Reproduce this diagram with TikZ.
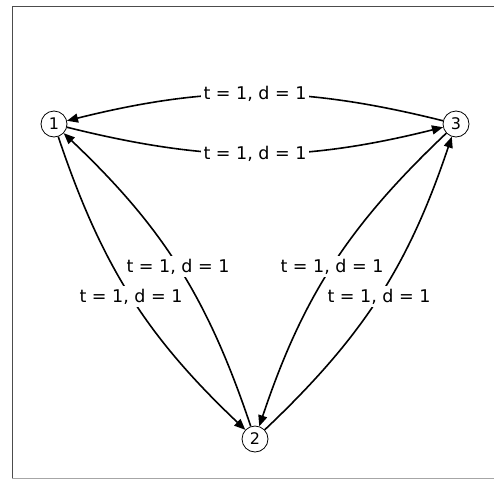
\documentclass[tikz,border=0pt]{standalone}
\usepackage{fontspec}
\setmainfont{DejaVu Sans}
\usetikzlibrary{arrows.meta}
\begin{document}
\begin{tikzpicture}[x=1pt,y=-1pt,
 vtx/.style={circle,draw,line width=0.8pt,minimum size=26pt,inner sep=0pt,font=\fontsize{16}{19}\selectfont},
 edge/.style={-{Triangle[length=11pt,width=9pt]},line width=1.6pt,bend right=14},
 lbl/.style={fill=white,inner sep=3pt,font=\fontsize{17.5}{21}\selectfont}]
\useasboundingbox (0,0) rectangle (494,479);
\draw[color=black!70,line width=1pt] (494,6) -- (12,6) -- (12,478);
\draw[color=black!35,line width=1pt] (12,478) -- (494,478);
\node[vtx] (n1) at (54,124) {1};
\node[vtx] (n3) at (456,124) {3};
\node[vtx] (n2) at (255,439) {2};
\draw[edge] (n3) to node[lbl]{t = 1, d = 1} (n1);
\draw[edge] (n1) to node[lbl]{t = 1, d = 1} (n3);
\draw[edge] (n1) to node[lbl]{t = 1, d = 1} (n2);
\draw[edge] (n2) to node[lbl]{t = 1, d = 1} (n1);
\draw[edge] (n3) to node[lbl]{t = 1, d = 1} (n2);
\draw[edge] (n2) to node[lbl]{t = 1, d = 1} (n3);
\end{tikzpicture}
\end{document}
